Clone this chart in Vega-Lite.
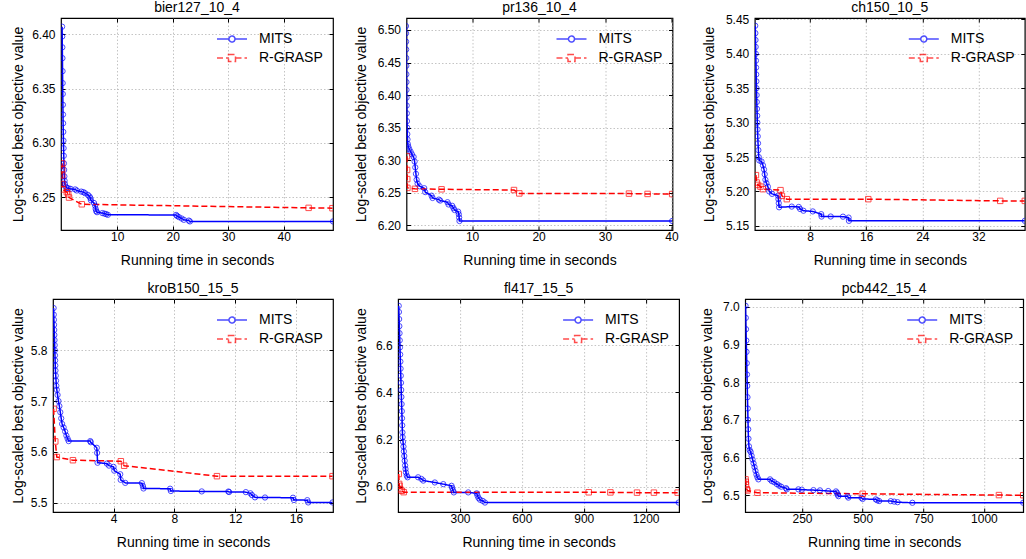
{
"$schema": "https://vega.github.io/schema/vega-lite/v6.json",
"padding": {"left": 9, "top": -1, "right": 0, "bottom": 0},
"background": "white",
"config": {
  "font": "Liberation Sans",
  "view": {"stroke": "#000000", "strokeWidth": 1.2},
  "axis": {"labelFont": "Liberation Sans", "titleFont": "Liberation Sans", "labelFontSize": 12, "titleFontSize": 14, "titleFontWeight": "normal", "labelColor": "#000000", "titleColor": "#000000", "tickColor": "#000000", "tickSize": -4, "tickWidth": 1, "domain": false, "gridColor": "#b5b5b5", "gridDash": [1.5, 2], "gridWidth": 0.8, "minExtent": 0, "labelFlush": false, "labelOverlap": false, "labelBound": false},
  "axisX": {"labelPadding": 5, "titlePadding": 11, "minExtent": 0},
  "axisY": {"labelPadding": 10, "titlePadding": 7, "minExtent": 0},
  "title": {"font": "Liberation Sans", "fontSize": 14, "fontWeight": "normal", "color": "#000000", "offset": 3, "frame": "group"},
  "legend": {"orient": "top-right", "offset": 10, "padding": 0, "labelFont": "Liberation Sans", "labelFontSize": 14, "labelColor": "#000000", "symbolSize": 400, "symbolStrokeWidth": 1.5, "labelOffset": 16, "rowPadding": 1}
},
"datasets": {"d": [
{"p":"bier127_10_4","s":"MITS","t":0.05,"v":6.407},{"p":"bier127_10_4","s":"MITS","t":0.07,"v":6.398},{"p":"bier127_10_4","s":"MITS","t":0.09,"v":6.388},{"p":"bier127_10_4","s":"MITS","t":0.11,"v":6.378},{"p":"bier127_10_4","s":"MITS","t":0.13,"v":6.366},{"p":"bier127_10_4","s":"MITS","t":0.15,"v":6.355},{"p":"bier127_10_4","s":"MITS","t":0.17,"v":6.345},{"p":"bier127_10_4","s":"MITS","t":0.19,"v":6.335},{"p":"bier127_10_4","s":"MITS","t":0.21,"v":6.326},{"p":"bier127_10_4","s":"MITS","t":0.23,"v":6.318},{"p":"bier127_10_4","s":"MITS","t":0.26,"v":6.31},{"p":"bier127_10_4","s":"MITS","t":0.29,"v":6.302},{"p":"bier127_10_4","s":"MITS","t":0.32,"v":6.295},{"p":"bier127_10_4","s":"MITS","t":0.35,"v":6.288},{"p":"bier127_10_4","s":"MITS","t":0.38,"v":6.281},{"p":"bier127_10_4","s":"MITS","t":0.42,"v":6.275},{"p":"bier127_10_4","s":"MITS","t":0.46,"v":6.269},{"p":"bier127_10_4","s":"MITS","t":0.5,"v":6.265},{"p":"bier127_10_4","s":"MITS","t":0.55,"v":6.262},{"p":"bier127_10_4","s":"MITS","t":0.7,"v":6.2595},{"p":"bier127_10_4","s":"MITS","t":0.9,"v":6.2585},{"p":"bier127_10_4","s":"MITS","t":1.2,"v":6.258},{"p":"bier127_10_4","s":"MITS","t":1.6,"v":6.2575},{"p":"bier127_10_4","s":"MITS","t":2.4,"v":6.257},{"p":"bier127_10_4","s":"MITS","t":2.7,"v":6.256},{"p":"bier127_10_4","s":"MITS","t":3.5,"v":6.255},{"p":"bier127_10_4","s":"MITS","t":3.9,"v":6.2545},{"p":"bier127_10_4","s":"MITS","t":4.2,"v":6.2535},{"p":"bier127_10_4","s":"MITS","t":4.7,"v":6.252},{"p":"bier127_10_4","s":"MITS","t":5.0,"v":6.2505},{"p":"bier127_10_4","s":"MITS","t":5.15,"v":6.249},{"p":"bier127_10_4","s":"MITS","t":5.25,"v":6.247},{"p":"bier127_10_4","s":"MITS","t":5.8,"v":6.2445},{"p":"bier127_10_4","s":"MITS","t":6.0,"v":6.242},{"p":"bier127_10_4","s":"MITS","t":6.1,"v":6.239},{"p":"bier127_10_4","s":"MITS","t":6.2,"v":6.237},{"p":"bier127_10_4","s":"MITS","t":6.35,"v":6.236},{"p":"bier127_10_4","s":"MITS","t":7.3,"v":6.2352},{"p":"bier127_10_4","s":"MITS","t":7.7,"v":6.2347},{"p":"bier127_10_4","s":"MITS","t":8.0,"v":6.2342},{"p":"bier127_10_4","s":"MITS","t":8.3,"v":6.2336},{"p":"bier127_10_4","s":"MITS","t":20.6,"v":6.2335},{"p":"bier127_10_4","s":"MITS","t":20.8,"v":6.2325},{"p":"bier127_10_4","s":"MITS","t":21.1,"v":6.2315},{"p":"bier127_10_4","s":"MITS","t":21.6,"v":6.2302},{"p":"bier127_10_4","s":"MITS","t":22.0,"v":6.229},{"p":"bier127_10_4","s":"MITS","t":22.9,"v":6.2283},{"p":"bier127_10_4","s":"MITS","t":23.1,"v":6.2275},{"p":"bier127_10_4","s":"MITS","t":48.9,"v":6.2275},
{"p":"bier127_10_4","s":"R-GRASP","t":0.05,"v":6.281},{"p":"bier127_10_4","s":"R-GRASP","t":0.07,"v":6.276},{"p":"bier127_10_4","s":"R-GRASP","t":0.09,"v":6.27},{"p":"bier127_10_4","s":"R-GRASP","t":0.11,"v":6.262},{"p":"bier127_10_4","s":"R-GRASP","t":0.14,"v":6.257},{"p":"bier127_10_4","s":"R-GRASP","t":0.9,"v":6.2545},{"p":"bier127_10_4","s":"R-GRASP","t":1.15,"v":6.2525},{"p":"bier127_10_4","s":"R-GRASP","t":1.3,"v":6.2495},{"p":"bier127_10_4","s":"R-GRASP","t":3.6,"v":6.2433},{"p":"bier127_10_4","s":"R-GRASP","t":44.5,"v":6.24},{"p":"bier127_10_4","s":"R-GRASP","t":48.8,"v":6.2397},
{"p":"pr136_10_4","s":"MITS","t":0.05,"v":6.506},{"p":"pr136_10_4","s":"MITS","t":0.06,"v":6.495},{"p":"pr136_10_4","s":"MITS","t":0.07,"v":6.482},{"p":"pr136_10_4","s":"MITS","t":0.08,"v":6.47},{"p":"pr136_10_4","s":"MITS","t":0.09,"v":6.457},{"p":"pr136_10_4","s":"MITS","t":0.1,"v":6.445},{"p":"pr136_10_4","s":"MITS","t":0.11,"v":6.432},{"p":"pr136_10_4","s":"MITS","t":0.12,"v":6.42},{"p":"pr136_10_4","s":"MITS","t":0.13,"v":6.408},{"p":"pr136_10_4","s":"MITS","t":0.14,"v":6.396},{"p":"pr136_10_4","s":"MITS","t":0.16,"v":6.384},{"p":"pr136_10_4","s":"MITS","t":0.18,"v":6.372},{"p":"pr136_10_4","s":"MITS","t":0.2,"v":6.36},{"p":"pr136_10_4","s":"MITS","t":0.22,"v":6.35},{"p":"pr136_10_4","s":"MITS","t":0.25,"v":6.34},{"p":"pr136_10_4","s":"MITS","t":0.28,"v":6.332},{"p":"pr136_10_4","s":"MITS","t":0.32,"v":6.325},{"p":"pr136_10_4","s":"MITS","t":0.4,"v":6.321},{"p":"pr136_10_4","s":"MITS","t":0.55,"v":6.317},{"p":"pr136_10_4","s":"MITS","t":0.75,"v":6.313},{"p":"pr136_10_4","s":"MITS","t":0.95,"v":6.309},{"p":"pr136_10_4","s":"MITS","t":1.2,"v":6.305},{"p":"pr136_10_4","s":"MITS","t":1.35,"v":6.298},{"p":"pr136_10_4","s":"MITS","t":1.45,"v":6.289},{"p":"pr136_10_4","s":"MITS","t":1.55,"v":6.279},{"p":"pr136_10_4","s":"MITS","t":1.65,"v":6.27},{"p":"pr136_10_4","s":"MITS","t":1.8,"v":6.264},{"p":"pr136_10_4","s":"MITS","t":2.1,"v":6.26},{"p":"pr136_10_4","s":"MITS","t":2.8,"v":6.257},{"p":"pr136_10_4","s":"MITS","t":2.95,"v":6.251},{"p":"pr136_10_4","s":"MITS","t":3.9,"v":6.2455},{"p":"pr136_10_4","s":"MITS","t":4.05,"v":6.242},{"p":"pr136_10_4","s":"MITS","t":5.0,"v":6.2395},{"p":"pr136_10_4","s":"MITS","t":5.2,"v":6.238},{"p":"pr136_10_4","s":"MITS","t":6.3,"v":6.2355},{"p":"pr136_10_4","s":"MITS","t":6.45,"v":6.232},{"p":"pr136_10_4","s":"MITS","t":7.0,"v":6.23},{"p":"pr136_10_4","s":"MITS","t":7.2,"v":6.2265},{"p":"pr136_10_4","s":"MITS","t":7.35,"v":6.2235},{"p":"pr136_10_4","s":"MITS","t":7.9,"v":6.221},{"p":"pr136_10_4","s":"MITS","t":8.0,"v":6.217},{"p":"pr136_10_4","s":"MITS","t":8.05,"v":6.212},{"p":"pr136_10_4","s":"MITS","t":8.1,"v":6.2066},{"p":"pr136_10_4","s":"MITS","t":40.1,"v":6.2066},
{"p":"pr136_10_4","s":"R-GRASP","t":0.2,"v":6.306},{"p":"pr136_10_4","s":"R-GRASP","t":0.22,"v":6.285},{"p":"pr136_10_4","s":"R-GRASP","t":0.24,"v":6.271},{"p":"pr136_10_4","s":"R-GRASP","t":0.26,"v":6.2575},{"p":"pr136_10_4","s":"R-GRASP","t":1.4,"v":6.256},{"p":"pr136_10_4","s":"R-GRASP","t":5.4,"v":6.2553},{"p":"pr136_10_4","s":"R-GRASP","t":16.3,"v":6.2542},{"p":"pr136_10_4","s":"R-GRASP","t":17.1,"v":6.249},{"p":"pr136_10_4","s":"R-GRASP","t":33.6,"v":6.2487},{"p":"pr136_10_4","s":"R-GRASP","t":36.4,"v":6.2482},{"p":"pr136_10_4","s":"R-GRASP","t":40.1,"v":6.248},
{"p":"ch150_10_5","s":"MITS","t":0.2,"v":5.4407},{"p":"ch150_10_5","s":"MITS","t":0.22,"v":5.43},{"p":"ch150_10_5","s":"MITS","t":0.24,"v":5.42},{"p":"ch150_10_5","s":"MITS","t":0.26,"v":5.41},{"p":"ch150_10_5","s":"MITS","t":0.28,"v":5.4},{"p":"ch150_10_5","s":"MITS","t":0.3,"v":5.39},{"p":"ch150_10_5","s":"MITS","t":0.32,"v":5.38},{"p":"ch150_10_5","s":"MITS","t":0.34,"v":5.37},{"p":"ch150_10_5","s":"MITS","t":0.36,"v":5.36},{"p":"ch150_10_5","s":"MITS","t":0.38,"v":5.35},{"p":"ch150_10_5","s":"MITS","t":0.4,"v":5.34},{"p":"ch150_10_5","s":"MITS","t":0.42,"v":5.33},{"p":"ch150_10_5","s":"MITS","t":0.45,"v":5.32},{"p":"ch150_10_5","s":"MITS","t":0.48,"v":5.31},{"p":"ch150_10_5","s":"MITS","t":0.5,"v":5.3},{"p":"ch150_10_5","s":"MITS","t":0.53,"v":5.29},{"p":"ch150_10_5","s":"MITS","t":0.56,"v":5.28},{"p":"ch150_10_5","s":"MITS","t":0.6,"v":5.27},{"p":"ch150_10_5","s":"MITS","t":0.65,"v":5.26},{"p":"ch150_10_5","s":"MITS","t":0.7,"v":5.25},{"p":"ch150_10_5","s":"MITS","t":0.78,"v":5.245},{"p":"ch150_10_5","s":"MITS","t":1.1,"v":5.2435},{"p":"ch150_10_5","s":"MITS","t":1.3,"v":5.238},{"p":"ch150_10_5","s":"MITS","t":1.45,"v":5.232},{"p":"ch150_10_5","s":"MITS","t":1.55,"v":5.225},{"p":"ch150_10_5","s":"MITS","t":1.65,"v":5.217},{"p":"ch150_10_5","s":"MITS","t":1.8,"v":5.212},{"p":"ch150_10_5","s":"MITS","t":2.0,"v":5.207},{"p":"ch150_10_5","s":"MITS","t":2.2,"v":5.2},{"p":"ch150_10_5","s":"MITS","t":2.6,"v":5.1965},{"p":"ch150_10_5","s":"MITS","t":3.45,"v":5.194},{"p":"ch150_10_5","s":"MITS","t":3.5,"v":5.189},{"p":"ch150_10_5","s":"MITS","t":3.55,"v":5.183},{"p":"ch150_10_5","s":"MITS","t":3.6,"v":5.177},{"p":"ch150_10_5","s":"MITS","t":5.4,"v":5.178},{"p":"ch150_10_5","s":"MITS","t":6.4,"v":5.1775},{"p":"ch150_10_5","s":"MITS","t":6.6,"v":5.1745},{"p":"ch150_10_5","s":"MITS","t":7.07,"v":5.172},{"p":"ch150_10_5","s":"MITS","t":8.4,"v":5.171},{"p":"ch150_10_5","s":"MITS","t":9.6,"v":5.167},{"p":"ch150_10_5","s":"MITS","t":9.65,"v":5.1635},{"p":"ch150_10_5","s":"MITS","t":10.95,"v":5.1636},{"p":"ch150_10_5","s":"MITS","t":12.7,"v":5.1634},{"p":"ch150_10_5","s":"MITS","t":13.5,"v":5.162},{"p":"ch150_10_5","s":"MITS","t":13.55,"v":5.1573},{"p":"ch150_10_5","s":"MITS","t":38.6,"v":5.1573},
{"p":"ch150_10_5","s":"R-GRASP","t":0.3,"v":5.2237},{"p":"ch150_10_5","s":"R-GRASP","t":0.4,"v":5.213},{"p":"ch150_10_5","s":"R-GRASP","t":0.6,"v":5.2095},{"p":"ch150_10_5","s":"R-GRASP","t":0.95,"v":5.207},{"p":"ch150_10_5","s":"R-GRASP","t":1.3,"v":5.2033},{"p":"ch150_10_5","s":"R-GRASP","t":3.8,"v":5.2019},{"p":"ch150_10_5","s":"R-GRASP","t":4.0,"v":5.1936},{"p":"ch150_10_5","s":"R-GRASP","t":4.7,"v":5.1888},{"p":"ch150_10_5","s":"R-GRASP","t":16.3,"v":5.1888},{"p":"ch150_10_5","s":"R-GRASP","t":35.1,"v":5.1863},{"p":"ch150_10_5","s":"R-GRASP","t":38.6,"v":5.1863},
{"p":"kroB150_15_5","s":"MITS","t":0.06,"v":5.883},{"p":"kroB150_15_5","s":"MITS","t":0.07,"v":5.87},{"p":"kroB150_15_5","s":"MITS","t":0.08,"v":5.86},{"p":"kroB150_15_5","s":"MITS","t":0.09,"v":5.85},{"p":"kroB150_15_5","s":"MITS","t":0.1,"v":5.84},{"p":"kroB150_15_5","s":"MITS","t":0.11,"v":5.83},{"p":"kroB150_15_5","s":"MITS","t":0.12,"v":5.82},{"p":"kroB150_15_5","s":"MITS","t":0.13,"v":5.81},{"p":"kroB150_15_5","s":"MITS","t":0.14,"v":5.8},{"p":"kroB150_15_5","s":"MITS","t":0.15,"v":5.79},{"p":"kroB150_15_5","s":"MITS","t":0.16,"v":5.78},{"p":"kroB150_15_5","s":"MITS","t":0.17,"v":5.77},{"p":"kroB150_15_5","s":"MITS","t":0.18,"v":5.76},{"p":"kroB150_15_5","s":"MITS","t":0.2,"v":5.75},{"p":"kroB150_15_5","s":"MITS","t":0.22,"v":5.74},{"p":"kroB150_15_5","s":"MITS","t":0.24,"v":5.73},{"p":"kroB150_15_5","s":"MITS","t":0.27,"v":5.722},{"p":"kroB150_15_5","s":"MITS","t":0.32,"v":5.712},{"p":"kroB150_15_5","s":"MITS","t":0.38,"v":5.7},{"p":"kroB150_15_5","s":"MITS","t":0.44,"v":5.69},{"p":"kroB150_15_5","s":"MITS","t":0.5,"v":5.678},{"p":"kroB150_15_5","s":"MITS","t":0.56,"v":5.666},{"p":"kroB150_15_5","s":"MITS","t":0.62,"v":5.655},{"p":"kroB150_15_5","s":"MITS","t":0.72,"v":5.648},{"p":"kroB150_15_5","s":"MITS","t":0.82,"v":5.64},{"p":"kroB150_15_5","s":"MITS","t":0.9,"v":5.632},{"p":"kroB150_15_5","s":"MITS","t":0.98,"v":5.626},{"p":"kroB150_15_5","s":"MITS","t":1.05,"v":5.6212},{"p":"kroB150_15_5","s":"MITS","t":2.47,"v":5.6212},{"p":"kroB150_15_5","s":"MITS","t":2.5,"v":5.619},{"p":"kroB150_15_5","s":"MITS","t":2.9,"v":5.608},{"p":"kroB150_15_5","s":"MITS","t":2.92,"v":5.598},{"p":"kroB150_15_5","s":"MITS","t":2.95,"v":5.5786},{"p":"kroB150_15_5","s":"MITS","t":3.56,"v":5.577},{"p":"kroB150_15_5","s":"MITS","t":3.7,"v":5.573},{"p":"kroB150_15_5","s":"MITS","t":4.0,"v":5.5705},{"p":"kroB150_15_5","s":"MITS","t":4.05,"v":5.563},{"p":"kroB150_15_5","s":"MITS","t":4.44,"v":5.556},{"p":"kroB150_15_5","s":"MITS","t":4.47,"v":5.545},{"p":"kroB150_15_5","s":"MITS","t":4.77,"v":5.539},{"p":"kroB150_15_5","s":"MITS","t":5.86,"v":5.5385},{"p":"kroB150_15_5","s":"MITS","t":5.93,"v":5.5328},{"p":"kroB150_15_5","s":"MITS","t":5.97,"v":5.528},{"p":"kroB150_15_5","s":"MITS","t":7.72,"v":5.5275},{"p":"kroB150_15_5","s":"MITS","t":7.77,"v":5.523},{"p":"kroB150_15_5","s":"MITS","t":9.8,"v":5.5222},{"p":"kroB150_15_5","s":"MITS","t":11.55,"v":5.522},{"p":"kroB150_15_5","s":"MITS","t":11.6,"v":5.521},{"p":"kroB150_15_5","s":"MITS","t":12.7,"v":5.5208},{"p":"kroB150_15_5","s":"MITS","t":13.0,"v":5.5185},{"p":"kroB150_15_5","s":"MITS","t":13.1,"v":5.515},{"p":"kroB150_15_5","s":"MITS","t":13.3,"v":5.5105},{"p":"kroB150_15_5","s":"MITS","t":13.96,"v":5.5102},{"p":"kroB150_15_5","s":"MITS","t":15.8,"v":5.5098},{"p":"kroB150_15_5","s":"MITS","t":15.86,"v":5.5053},{"p":"kroB150_15_5","s":"MITS","t":16.74,"v":5.505},{"p":"kroB150_15_5","s":"MITS","t":16.8,"v":5.5005},{"p":"kroB150_15_5","s":"MITS","t":18.4,"v":5.5005},
{"p":"kroB150_15_5","s":"R-GRASP","t":0.06,"v":5.6847},{"p":"kroB150_15_5","s":"R-GRASP","t":0.17,"v":5.6205},{"p":"kroB150_15_5","s":"R-GRASP","t":0.27,"v":5.5898},{"p":"kroB150_15_5","s":"R-GRASP","t":1.33,"v":5.5836},{"p":"kroB150_15_5","s":"R-GRASP","t":4.48,"v":5.5816},{"p":"kroB150_15_5","s":"R-GRASP","t":4.7,"v":5.5728},{"p":"kroB150_15_5","s":"R-GRASP","t":10.8,"v":5.5522},{"p":"kroB150_15_5","s":"R-GRASP","t":18.4,"v":5.5522},
{"p":"fl417_15_5","s":"MITS","t":3,"v":6.766},{"p":"fl417_15_5","s":"MITS","t":4,"v":6.74},{"p":"fl417_15_5","s":"MITS","t":5,"v":6.71},{"p":"fl417_15_5","s":"MITS","t":6,"v":6.68},{"p":"fl417_15_5","s":"MITS","t":7,"v":6.65},{"p":"fl417_15_5","s":"MITS","t":8,"v":6.62},{"p":"fl417_15_5","s":"MITS","t":9,"v":6.59},{"p":"fl417_15_5","s":"MITS","t":10,"v":6.56},{"p":"fl417_15_5","s":"MITS","t":11,"v":6.53},{"p":"fl417_15_5","s":"MITS","t":12,"v":6.5},{"p":"fl417_15_5","s":"MITS","t":13,"v":6.47},{"p":"fl417_15_5","s":"MITS","t":14,"v":6.44},{"p":"fl417_15_5","s":"MITS","t":15,"v":6.41},{"p":"fl417_15_5","s":"MITS","t":16,"v":6.38},{"p":"fl417_15_5","s":"MITS","t":17,"v":6.35},{"p":"fl417_15_5","s":"MITS","t":18,"v":6.32},{"p":"fl417_15_5","s":"MITS","t":19,"v":6.29},{"p":"fl417_15_5","s":"MITS","t":20,"v":6.26},{"p":"fl417_15_5","s":"MITS","t":21,"v":6.23},{"p":"fl417_15_5","s":"MITS","t":22,"v":6.21},{"p":"fl417_15_5","s":"MITS","t":24,"v":6.19},{"p":"fl417_15_5","s":"MITS","t":26,"v":6.17},{"p":"fl417_15_5","s":"MITS","t":28,"v":6.15},{"p":"fl417_15_5","s":"MITS","t":30,"v":6.13},{"p":"fl417_15_5","s":"MITS","t":32,"v":6.11},{"p":"fl417_15_5","s":"MITS","t":34,"v":6.09},{"p":"fl417_15_5","s":"MITS","t":36,"v":6.075},{"p":"fl417_15_5","s":"MITS","t":38,"v":6.06},{"p":"fl417_15_5","s":"MITS","t":42,"v":6.047},{"p":"fl417_15_5","s":"MITS","t":46,"v":6.04},{"p":"fl417_15_5","s":"MITS","t":97,"v":6.04},{"p":"fl417_15_5","s":"MITS","t":113,"v":6.033},{"p":"fl417_15_5","s":"MITS","t":122,"v":6.026},{"p":"fl417_15_5","s":"MITS","t":178,"v":6.018},{"p":"fl417_15_5","s":"MITS","t":219,"v":6.011},{"p":"fl417_15_5","s":"MITS","t":259,"v":6.004},{"p":"fl417_15_5","s":"MITS","t":262,"v":5.995},{"p":"fl417_15_5","s":"MITS","t":266,"v":5.985},{"p":"fl417_15_5","s":"MITS","t":270,"v":5.976},{"p":"fl417_15_5","s":"MITS","t":340,"v":5.976},{"p":"fl417_15_5","s":"MITS","t":381,"v":5.972},{"p":"fl417_15_5","s":"MITS","t":385,"v":5.962},{"p":"fl417_15_5","s":"MITS","t":390,"v":5.952},{"p":"fl417_15_5","s":"MITS","t":397,"v":5.945},{"p":"fl417_15_5","s":"MITS","t":410,"v":5.94},{"p":"fl417_15_5","s":"MITS","t":421,"v":5.933},{"p":"fl417_15_5","s":"MITS","t":1360,"v":5.933},
{"p":"fl417_15_5","s":"R-GRASP","t":3,"v":6.054},{"p":"fl417_15_5","s":"R-GRASP","t":5,"v":6.012},{"p":"fl417_15_5","s":"R-GRASP","t":7,"v":6.004},{"p":"fl417_15_5","s":"R-GRASP","t":10,"v":5.99},{"p":"fl417_15_5","s":"R-GRASP","t":18,"v":5.983},{"p":"fl417_15_5","s":"R-GRASP","t":27,"v":5.977},{"p":"fl417_15_5","s":"R-GRASP","t":924,"v":5.9765},{"p":"fl417_15_5","s":"R-GRASP","t":1029,"v":5.976},{"p":"fl417_15_5","s":"R-GRASP","t":1158,"v":5.975},{"p":"fl417_15_5","s":"R-GRASP","t":1240,"v":5.975},{"p":"fl417_15_5","s":"R-GRASP","t":1355,"v":5.975},
{"p":"pcb442_15_4","s":"MITS","t":17,"v":7.002},{"p":"pcb442_15_4","s":"MITS","t":18,"v":6.97},{"p":"pcb442_15_4","s":"MITS","t":19,"v":6.94},{"p":"pcb442_15_4","s":"MITS","t":20,"v":6.91},{"p":"pcb442_15_4","s":"MITS","t":21,"v":6.88},{"p":"pcb442_15_4","s":"MITS","t":22,"v":6.85},{"p":"pcb442_15_4","s":"MITS","t":23,"v":6.82},{"p":"pcb442_15_4","s":"MITS","t":24,"v":6.79},{"p":"pcb442_15_4","s":"MITS","t":25,"v":6.76},{"p":"pcb442_15_4","s":"MITS","t":26,"v":6.73},{"p":"pcb442_15_4","s":"MITS","t":27,"v":6.7},{"p":"pcb442_15_4","s":"MITS","t":28,"v":6.675},{"p":"pcb442_15_4","s":"MITS","t":29,"v":6.65},{"p":"pcb442_15_4","s":"MITS","t":31,"v":6.63},{"p":"pcb442_15_4","s":"MITS","t":34,"v":6.62},{"p":"pcb442_15_4","s":"MITS","t":38,"v":6.615},{"p":"pcb442_15_4","s":"MITS","t":42,"v":6.605},{"p":"pcb442_15_4","s":"MITS","t":46,"v":6.595},{"p":"pcb442_15_4","s":"MITS","t":50,"v":6.585},{"p":"pcb442_15_4","s":"MITS","t":54,"v":6.575},{"p":"pcb442_15_4","s":"MITS","t":58,"v":6.565},{"p":"pcb442_15_4","s":"MITS","t":62,"v":6.555},{"p":"pcb442_15_4","s":"MITS","t":66,"v":6.548},{"p":"pcb442_15_4","s":"MITS","t":70,"v":6.5424},{"p":"pcb442_15_4","s":"MITS","t":118,"v":6.5424},{"p":"pcb442_15_4","s":"MITS","t":125,"v":6.538},{"p":"pcb442_15_4","s":"MITS","t":135,"v":6.535},{"p":"pcb442_15_4","s":"MITS","t":146,"v":6.53},{"p":"pcb442_15_4","s":"MITS","t":155,"v":6.526},{"p":"pcb442_15_4","s":"MITS","t":164,"v":6.523},{"p":"pcb442_15_4","s":"MITS","t":184,"v":6.519},{"p":"pcb442_15_4","s":"MITS","t":187,"v":6.516},{"p":"pcb442_15_4","s":"MITS","t":235,"v":6.516},{"p":"pcb442_15_4","s":"MITS","t":249,"v":6.515},{"p":"pcb442_15_4","s":"MITS","t":297,"v":6.514},{"p":"pcb442_15_4","s":"MITS","t":324,"v":6.5133},{"p":"pcb442_15_4","s":"MITS","t":358,"v":6.5115},{"p":"pcb442_15_4","s":"MITS","t":390,"v":6.5105},{"p":"pcb442_15_4","s":"MITS","t":394,"v":6.507},{"p":"pcb442_15_4","s":"MITS","t":397,"v":6.502},{"p":"pcb442_15_4","s":"MITS","t":400,"v":6.498},{"p":"pcb442_15_4","s":"MITS","t":438,"v":6.4975},{"p":"pcb442_15_4","s":"MITS","t":441,"v":6.494},{"p":"pcb442_15_4","s":"MITS","t":495,"v":6.4936},{"p":"pcb442_15_4","s":"MITS","t":500,"v":6.4905},{"p":"pcb442_15_4","s":"MITS","t":554,"v":6.4895},{"p":"pcb442_15_4","s":"MITS","t":560,"v":6.487},{"p":"pcb442_15_4","s":"MITS","t":568,"v":6.485},{"p":"pcb442_15_4","s":"MITS","t":616,"v":6.4848},{"p":"pcb442_15_4","s":"MITS","t":630,"v":6.4835},{"p":"pcb442_15_4","s":"MITS","t":644,"v":6.482},{"p":"pcb442_15_4","s":"MITS","t":705,"v":6.4804},{"p":"pcb442_15_4","s":"MITS","t":1162,"v":6.4804},
{"p":"pcb442_15_4","s":"R-GRASP","t":17,"v":6.5424},{"p":"pcb442_15_4","s":"R-GRASP","t":18,"v":6.536},{"p":"pcb442_15_4","s":"R-GRASP","t":19,"v":6.529},{"p":"pcb442_15_4","s":"R-GRASP","t":22,"v":6.5165},{"p":"pcb442_15_4","s":"R-GRASP","t":25,"v":6.513},{"p":"pcb442_15_4","s":"R-GRASP","t":66,"v":6.507},{"p":"pcb442_15_4","s":"R-GRASP","t":500,"v":6.5042},{"p":"pcb442_15_4","s":"R-GRASP","t":1062,"v":6.5008},{"p":"pcb442_15_4","s":"R-GRASP","t":1162,"v":6.5005}
]},
"resolve": {"scale": {"color": "independent", "strokeDash": "independent", "shape": "independent"}, "legend": {"color": "independent", "strokeDash": "independent", "shape": "independent"}},
"spacing": 12,
"vconcat": [
{"spacing": 0,
 "resolve": {"scale": {"color": "independent", "strokeDash": "independent", "shape": "independent"}, "legend": {"color": "independent", "strokeDash": "independent", "shape": "independent"}},
 "hconcat": [
 {"data": {"values": []}, "mark": "point", "width": 1, "height": 1, "view": {"stroke": null}},
 {"spacing": 18.5,
 "resolve": {"scale": {"color": "independent", "strokeDash": "independent", "shape": "independent"}, "legend": {"color": "independent", "strokeDash": "independent", "shape": "independent"}},
 "hconcat": [
  {"title": {"text": "bier127_10_4", "frame": "group", "offset": 3}, "width": 272, "height": 212, "data": {"name": "d"}, "transform": [{"filter": "datum.p === 'bier127_10_4'"}],
   "resolve": {"axis": {"x": "independent", "y": "independent"}},
   "layer": [
    {"mark": {"type": "line", "strokeWidth": 1.5, "clip": true},
     "encoding": {
      "x": {"field": "t", "type": "quantitative", "scale": {"domain": [-0.15, 48.9], "nice": false, "zero": false}, "axis": {"values": [10, 20, 30, 40], "title": "Running time in seconds"}},
      "y": {"field": "v", "type": "quantitative", "scale": {"domain": [6.2196, 6.415], "nice": false, "zero": false}, "axis": {"values": [6.25, 6.3, 6.35, 6.4], "format": ".2f", "title": "Log-scaled best objective value", "titlePadding": 6.6}},
      "color": {"field": "s", "type": "nominal", "scale": {"domain": ["MITS", "R-GRASP"], "range": ["#0000ff", "#ff0000"]}, "legend": {"title": null}},
      "strokeDash": {"field": "s", "type": "nominal", "scale": {"domain": ["MITS", "R-GRASP"], "range": [[1, 0], [6, 3]]}, "legend": {"title": null}}
     }},
    {"transform": [{"filter": "datum.s === 'MITS'"}],
     "mark": {"type": "point", "shape": "circle", "filled": false, "size": 28, "strokeWidth": 1, "clip": true},
     "encoding": {
      "x": {"field": "t", "type": "quantitative", "scale": {"domain": [-0.15, 48.9], "nice": false, "zero": false}, "axis": {"orient": "top", "values": [10, 20, 30, 40], "labels": false, "grid": false, "title": null}},
      "y": {"field": "v", "type": "quantitative", "scale": {"domain": [6.2196, 6.415], "nice": false, "zero": false}, "axis": {"orient": "right", "values": [6.25, 6.3, 6.35, 6.4], "labels": false, "grid": false, "title": null}},
      "color": {"field": "s", "type": "nominal", "scale": {"domain": ["MITS", "R-GRASP"], "range": ["#0000ff", "#ff0000"]}, "legend": {"title": null}}
     }},
    {"transform": [{"filter": "datum.s === 'R-GRASP'"}],
     "mark": {"type": "point", "shape": "square", "filled": false, "size": 30, "strokeWidth": 1, "clip": true},
     "encoding": {
      "x": {"field": "t", "type": "quantitative", "scale": {"domain": [-0.15, 48.9], "nice": false, "zero": false}, "axis": null},
      "y": {"field": "v", "type": "quantitative", "scale": {"domain": [6.2196, 6.415], "nice": false, "zero": false}, "axis": null},
      "color": {"field": "s", "type": "nominal", "scale": {"domain": ["MITS", "R-GRASP"], "range": ["#0000ff", "#ff0000"]}, "legend": {"title": null}}
     }},
    {"transform": [{"filter": "false"}],
     "mark": {"type": "point", "filled": false},
     "encoding": {
      "shape": {"field": "s", "type": "nominal", "scale": {"domain": ["MITS", "R-GRASP"], "range": ["M-1.5,0H-0.3M0.3,0A0.3,0.3,0,1,1,-0.3,0A0.3,0.3,0,1,1,0.3,0M0.3,0H1.5", "M-1.5,0H-0.35M-0.35,-0.35H0.35V0.35H-0.35ZM0.35,0H1.5"]}, "legend": {"title": null}}
     }}
   ]},
  {"spacing": 22.3,
   "resolve": {"scale": {"color": "independent", "strokeDash": "independent", "shape": "independent"}, "legend": {"color": "independent", "strokeDash": "independent", "shape": "independent"}},
   "hconcat": [
  {"title": {"text": "pr136_10_4", "frame": "group", "offset": 3}, "width": 266, "height": 212, "data": {"name": "d"}, "transform": [{"filter": "datum.p === 'pr136_10_4'"}],
   "resolve": {"axis": {"x": "independent", "y": "independent"}},
   "layer": [
    {"mark": {"type": "line", "strokeWidth": 1.5, "clip": true},
     "encoding": {
      "x": {"field": "t", "type": "quantitative", "scale": {"domain": [0.13, 40.15], "nice": false, "zero": false}, "axis": {"values": [10, 20, 30, 40], "title": "Running time in seconds"}},
      "y": {"field": "v", "type": "quantitative", "scale": {"domain": [6.1928, 6.5184], "nice": false, "zero": false}, "axis": {"values": [6.2, 6.25, 6.3, 6.35, 6.4, 6.45, 6.5], "format": ".2f", "title": "Log-scaled best objective value", "titlePadding": 8.3}},
      "color": {"field": "s", "type": "nominal", "scale": {"domain": ["MITS", "R-GRASP"], "range": ["#0000ff", "#ff0000"]}, "legend": {"title": null}},
      "strokeDash": {"field": "s", "type": "nominal", "scale": {"domain": ["MITS", "R-GRASP"], "range": [[1, 0], [6, 3]]}, "legend": {"title": null}}
     }},
    {"transform": [{"filter": "datum.s === 'MITS'"}],
     "mark": {"type": "point", "shape": "circle", "filled": false, "size": 28, "strokeWidth": 1, "clip": true},
     "encoding": {
      "x": {"field": "t", "type": "quantitative", "scale": {"domain": [0.13, 40.15], "nice": false, "zero": false}, "axis": {"orient": "top", "values": [10, 20, 30, 40], "labels": false, "grid": false, "title": null}},
      "y": {"field": "v", "type": "quantitative", "scale": {"domain": [6.1928, 6.5184], "nice": false, "zero": false}, "axis": {"orient": "right", "values": [6.2, 6.25, 6.3, 6.35, 6.4, 6.45, 6.5], "labels": false, "grid": false, "title": null}},
      "color": {"field": "s", "type": "nominal", "scale": {"domain": ["MITS", "R-GRASP"], "range": ["#0000ff", "#ff0000"]}, "legend": {"title": null}}
     }},
    {"transform": [{"filter": "datum.s === 'R-GRASP'"}],
     "mark": {"type": "point", "shape": "square", "filled": false, "size": 30, "strokeWidth": 1, "clip": true},
     "encoding": {
      "x": {"field": "t", "type": "quantitative", "scale": {"domain": [0.13, 40.15], "nice": false, "zero": false}, "axis": null},
      "y": {"field": "v", "type": "quantitative", "scale": {"domain": [6.1928, 6.5184], "nice": false, "zero": false}, "axis": null},
      "color": {"field": "s", "type": "nominal", "scale": {"domain": ["MITS", "R-GRASP"], "range": ["#0000ff", "#ff0000"]}, "legend": {"title": null}}
     }},
    {"transform": [{"filter": "false"}],
     "mark": {"type": "point", "filled": false},
     "encoding": {
      "shape": {"field": "s", "type": "nominal", "scale": {"domain": ["MITS", "R-GRASP"], "range": ["M-1.5,0H-0.3M0.3,0A0.3,0.3,0,1,1,-0.3,0A0.3,0.3,0,1,1,0.3,0M0.3,0H1.5", "M-1.5,0H-0.35M-0.35,-0.35H0.35V0.35H-0.35ZM0.35,0H1.5"]}, "legend": {"title": null}}
     }}
   ]},
  {"title": {"text": "ch150_10_5", "frame": "group", "offset": -1.6}, "width": 270, "height": 212, "data": {"name": "d"}, "transform": [{"filter": "datum.p === 'ch150_10_5'"}],
   "resolve": {"axis": {"x": "independent", "y": "independent"}},
   "layer": [
    {"mark": {"type": "line", "strokeWidth": 1.5, "clip": true},
     "encoding": {
      "x": {"field": "t", "type": "quantitative", "scale": {"domain": [0.14, 38.6], "nice": false, "zero": false}, "axis": {"values": [8, 16, 24, 32], "title": "Running time in seconds"}},
      "y": {"field": "v", "type": "quantitative", "scale": {"domain": [5.144, 5.452], "nice": false, "zero": false}, "axis": {"values": [5.15, 5.2, 5.25, 5.3, 5.35, 5.4, 5.45], "format": ".2f", "title": "Log-scaled best objective value", "titlePadding": 8.6}},
      "color": {"field": "s", "type": "nominal", "scale": {"domain": ["MITS", "R-GRASP"], "range": ["#0000ff", "#ff0000"]}, "legend": {"title": null}},
      "strokeDash": {"field": "s", "type": "nominal", "scale": {"domain": ["MITS", "R-GRASP"], "range": [[1, 0], [6, 3]]}, "legend": {"title": null}}
     }},
    {"transform": [{"filter": "datum.s === 'MITS'"}],
     "mark": {"type": "point", "shape": "circle", "filled": false, "size": 28, "strokeWidth": 1, "clip": true},
     "encoding": {
      "x": {"field": "t", "type": "quantitative", "scale": {"domain": [0.14, 38.6], "nice": false, "zero": false}, "axis": {"orient": "top", "values": [8, 16, 24, 32], "labels": false, "grid": false, "title": null}},
      "y": {"field": "v", "type": "quantitative", "scale": {"domain": [5.144, 5.452], "nice": false, "zero": false}, "axis": {"orient": "right", "values": [5.15, 5.2, 5.25, 5.3, 5.35, 5.4, 5.45], "labels": false, "grid": false, "title": null}},
      "color": {"field": "s", "type": "nominal", "scale": {"domain": ["MITS", "R-GRASP"], "range": ["#0000ff", "#ff0000"]}, "legend": {"title": null}}
     }},
    {"transform": [{"filter": "datum.s === 'R-GRASP'"}],
     "mark": {"type": "point", "shape": "square", "filled": false, "size": 30, "strokeWidth": 1, "clip": true},
     "encoding": {
      "x": {"field": "t", "type": "quantitative", "scale": {"domain": [0.14, 38.6], "nice": false, "zero": false}, "axis": null},
      "y": {"field": "v", "type": "quantitative", "scale": {"domain": [5.144, 5.452], "nice": false, "zero": false}, "axis": null},
      "color": {"field": "s", "type": "nominal", "scale": {"domain": ["MITS", "R-GRASP"], "range": ["#0000ff", "#ff0000"]}, "legend": {"title": null}}
     }},
    {"transform": [{"filter": "false"}],
     "mark": {"type": "point", "filled": false},
     "encoding": {
      "shape": {"field": "s", "type": "nominal", "scale": {"domain": ["MITS", "R-GRASP"], "range": ["M-1.5,0H-0.3M0.3,0A0.3,0.3,0,1,1,-0.3,0A0.3,0.3,0,1,1,0.3,0M0.3,0H1.5", "M-1.5,0H-0.35M-0.35,-0.35H0.35V0.35H-0.35ZM0.35,0H1.5"]}, "legend": {"title": null}}
     }}
   ]}
   ]}
 ]}
 ]},
{"spacing": 0,
 "resolve": {"scale": {"color": "independent", "strokeDash": "independent", "shape": "independent"}, "legend": {"color": "independent", "strokeDash": "independent", "shape": "independent"}},
 "hconcat": [
 {"data": {"values": []}, "mark": "point", "width": 1, "height": 1, "view": {"stroke": null}},
 {"spacing": 19.1,
 "resolve": {"scale": {"color": "independent", "strokeDash": "independent", "shape": "independent"}, "legend": {"color": "independent", "strokeDash": "independent", "shape": "independent"}},
 "hconcat": [
  {"title": {"text": "kroB150_15_5", "frame": "group", "offset": 3}, "width": 280, "height": 213, "data": {"name": "d"}, "transform": [{"filter": "datum.p === 'kroB150_15_5'"}],
   "resolve": {"axis": {"x": "independent", "y": "independent"}},
   "layer": [
    {"mark": {"type": "line", "strokeWidth": 1.5, "clip": true},
     "encoding": {
      "x": {"field": "t", "type": "quantitative", "scale": {"domain": [0.02, 18.43], "nice": false, "zero": false}, "axis": {"values": [4, 8, 12, 16], "title": "Running time in seconds"}},
      "y": {"field": "v", "type": "quantitative", "scale": {"domain": [5.4817, 5.9008], "nice": false, "zero": false}, "axis": {"values": [5.5, 5.6, 5.7, 5.8], "format": ".1f", "title": "Log-scaled best objective value", "titlePadding": 5}},
      "color": {"field": "s", "type": "nominal", "scale": {"domain": ["MITS", "R-GRASP"], "range": ["#0000ff", "#ff0000"]}, "legend": {"title": null}},
      "strokeDash": {"field": "s", "type": "nominal", "scale": {"domain": ["MITS", "R-GRASP"], "range": [[1, 0], [6, 3]]}, "legend": {"title": null}}
     }},
    {"transform": [{"filter": "datum.s === 'MITS'"}],
     "mark": {"type": "point", "shape": "circle", "filled": false, "size": 28, "strokeWidth": 1, "clip": true},
     "encoding": {
      "x": {"field": "t", "type": "quantitative", "scale": {"domain": [0.02, 18.43], "nice": false, "zero": false}, "axis": {"orient": "top", "values": [4, 8, 12, 16], "labels": false, "grid": false, "title": null}},
      "y": {"field": "v", "type": "quantitative", "scale": {"domain": [5.4817, 5.9008], "nice": false, "zero": false}, "axis": {"orient": "right", "values": [5.5, 5.6, 5.7, 5.8], "labels": false, "grid": false, "title": null}},
      "color": {"field": "s", "type": "nominal", "scale": {"domain": ["MITS", "R-GRASP"], "range": ["#0000ff", "#ff0000"]}, "legend": {"title": null}}
     }},
    {"transform": [{"filter": "datum.s === 'R-GRASP'"}],
     "mark": {"type": "point", "shape": "square", "filled": false, "size": 30, "strokeWidth": 1, "clip": true},
     "encoding": {
      "x": {"field": "t", "type": "quantitative", "scale": {"domain": [0.02, 18.43], "nice": false, "zero": false}, "axis": null},
      "y": {"field": "v", "type": "quantitative", "scale": {"domain": [5.4817, 5.9008], "nice": false, "zero": false}, "axis": null},
      "color": {"field": "s", "type": "nominal", "scale": {"domain": ["MITS", "R-GRASP"], "range": ["#0000ff", "#ff0000"]}, "legend": {"title": null}}
     }},
    {"transform": [{"filter": "false"}],
     "mark": {"type": "point", "filled": false},
     "encoding": {
      "shape": {"field": "s", "type": "nominal", "scale": {"domain": ["MITS", "R-GRASP"], "range": ["M-1.5,0H-0.3M0.3,0A0.3,0.3,0,1,1,-0.3,0A0.3,0.3,0,1,1,0.3,0M0.3,0H1.5", "M-1.5,0H-0.35M-0.35,-0.35H0.35V0.35H-0.35ZM0.35,0H1.5"]}, "legend": {"title": null}}
     }}
   ]},
  {"title": {"text": "fl417_15_5", "frame": "group", "offset": 3}, "width": 281, "height": 213, "data": {"name": "d"}, "transform": [{"filter": "datum.p === 'fl417_15_5'"}],
   "resolve": {"axis": {"x": "independent", "y": "independent"}},
   "layer": [
    {"mark": {"type": "line", "strokeWidth": 1.5, "clip": true},
     "encoding": {
      "x": {"field": "t", "type": "quantitative", "scale": {"domain": [0, 1362], "nice": false, "zero": false}, "axis": {"values": [300, 600, 900, 1200], "format": "d", "title": "Running time in seconds"}},
      "y": {"field": "v", "type": "quantitative", "scale": {"domain": [5.893, 6.795], "nice": false, "zero": false}, "axis": {"values": [6.0, 6.2, 6.4, 6.6], "format": ".1f", "title": "Log-scaled best objective value", "titlePadding": 6.6}},
      "color": {"field": "s", "type": "nominal", "scale": {"domain": ["MITS", "R-GRASP"], "range": ["#0000ff", "#ff0000"]}, "legend": {"title": null}},
      "strokeDash": {"field": "s", "type": "nominal", "scale": {"domain": ["MITS", "R-GRASP"], "range": [[1, 0], [6, 3]]}, "legend": {"title": null}}
     }},
    {"transform": [{"filter": "datum.s === 'MITS'"}],
     "mark": {"type": "point", "shape": "circle", "filled": false, "size": 28, "strokeWidth": 1, "clip": true},
     "encoding": {
      "x": {"field": "t", "type": "quantitative", "scale": {"domain": [0, 1362], "nice": false, "zero": false}, "axis": {"orient": "top", "values": [300, 600, 900, 1200], "labels": false, "grid": false, "title": null}},
      "y": {"field": "v", "type": "quantitative", "scale": {"domain": [5.893, 6.795], "nice": false, "zero": false}, "axis": {"orient": "right", "values": [6.0, 6.2, 6.4, 6.6], "labels": false, "grid": false, "title": null}},
      "color": {"field": "s", "type": "nominal", "scale": {"domain": ["MITS", "R-GRASP"], "range": ["#0000ff", "#ff0000"]}, "legend": {"title": null}}
     }},
    {"transform": [{"filter": "datum.s === 'R-GRASP'"}],
     "mark": {"type": "point", "shape": "square", "filled": false, "size": 30, "strokeWidth": 1, "clip": true},
     "encoding": {
      "x": {"field": "t", "type": "quantitative", "scale": {"domain": [0, 1362], "nice": false, "zero": false}, "axis": null},
      "y": {"field": "v", "type": "quantitative", "scale": {"domain": [5.893, 6.795], "nice": false, "zero": false}, "axis": null},
      "color": {"field": "s", "type": "nominal", "scale": {"domain": ["MITS", "R-GRASP"], "range": ["#0000ff", "#ff0000"]}, "legend": {"title": null}}
     }},
    {"transform": [{"filter": "false"}],
     "mark": {"type": "point", "filled": false},
     "encoding": {
      "shape": {"field": "s", "type": "nominal", "scale": {"domain": ["MITS", "R-GRASP"], "range": ["M-1.5,0H-0.3M0.3,0A0.3,0.3,0,1,1,-0.3,0A0.3,0.3,0,1,1,0.3,0M0.3,0H1.5", "M-1.5,0H-0.35M-0.35,-0.35H0.35V0.35H-0.35ZM0.35,0H1.5"]}, "legend": {"title": null}}
     }}
   ]},
  {"title": {"text": "pcb442_15_4", "frame": "group", "offset": 3}, "width": 278, "height": 213, "data": {"name": "d"}, "transform": [{"filter": "datum.p === 'pcb442_15_4'"}],
   "resolve": {"axis": {"x": "independent", "y": "independent"}},
   "layer": [
    {"mark": {"type": "line", "strokeWidth": 1.5, "clip": true},
     "encoding": {
      "x": {"field": "t", "type": "quantitative", "scale": {"domain": [15.6, 1162], "nice": false, "zero": false}, "axis": {"values": [250, 500, 750, 1000], "format": "d", "title": "Running time in seconds"}},
      "y": {"field": "v", "type": "quantitative", "scale": {"domain": [6.456, 7.02], "nice": false, "zero": false}, "axis": {"values": [6.5, 6.6, 6.7, 6.8, 6.9, 7.0], "format": ".1f", "title": "Log-scaled best objective value", "titlePadding": 7.6}},
      "color": {"field": "s", "type": "nominal", "scale": {"domain": ["MITS", "R-GRASP"], "range": ["#0000ff", "#ff0000"]}, "legend": {"title": null}},
      "strokeDash": {"field": "s", "type": "nominal", "scale": {"domain": ["MITS", "R-GRASP"], "range": [[1, 0], [6, 3]]}, "legend": {"title": null}}
     }},
    {"transform": [{"filter": "datum.s === 'MITS'"}],
     "mark": {"type": "point", "shape": "circle", "filled": false, "size": 28, "strokeWidth": 1, "clip": true},
     "encoding": {
      "x": {"field": "t", "type": "quantitative", "scale": {"domain": [15.6, 1162], "nice": false, "zero": false}, "axis": {"orient": "top", "values": [250, 500, 750, 1000], "labels": false, "grid": false, "title": null}},
      "y": {"field": "v", "type": "quantitative", "scale": {"domain": [6.456, 7.02], "nice": false, "zero": false}, "axis": {"orient": "right", "values": [6.5, 6.6, 6.7, 6.8, 6.9, 7.0], "labels": false, "grid": false, "title": null}},
      "color": {"field": "s", "type": "nominal", "scale": {"domain": ["MITS", "R-GRASP"], "range": ["#0000ff", "#ff0000"]}, "legend": {"title": null}}
     }},
    {"transform": [{"filter": "datum.s === 'R-GRASP'"}],
     "mark": {"type": "point", "shape": "square", "filled": false, "size": 30, "strokeWidth": 1, "clip": true},
     "encoding": {
      "x": {"field": "t", "type": "quantitative", "scale": {"domain": [15.6, 1162], "nice": false, "zero": false}, "axis": null},
      "y": {"field": "v", "type": "quantitative", "scale": {"domain": [6.456, 7.02], "nice": false, "zero": false}, "axis": null},
      "color": {"field": "s", "type": "nominal", "scale": {"domain": ["MITS", "R-GRASP"], "range": ["#0000ff", "#ff0000"]}, "legend": {"title": null}}
     }},
    {"transform": [{"filter": "false"}],
     "mark": {"type": "point", "filled": false},
     "encoding": {
      "shape": {"field": "s", "type": "nominal", "scale": {"domain": ["MITS", "R-GRASP"], "range": ["M-1.5,0H-0.3M0.3,0A0.3,0.3,0,1,1,-0.3,0A0.3,0.3,0,1,1,0.3,0M0.3,0H1.5", "M-1.5,0H-0.35M-0.35,-0.35H0.35V0.35H-0.35ZM0.35,0H1.5"]}, "legend": {"title": null}}
     }}
   ]}
 ]}
 ]}
]
}
